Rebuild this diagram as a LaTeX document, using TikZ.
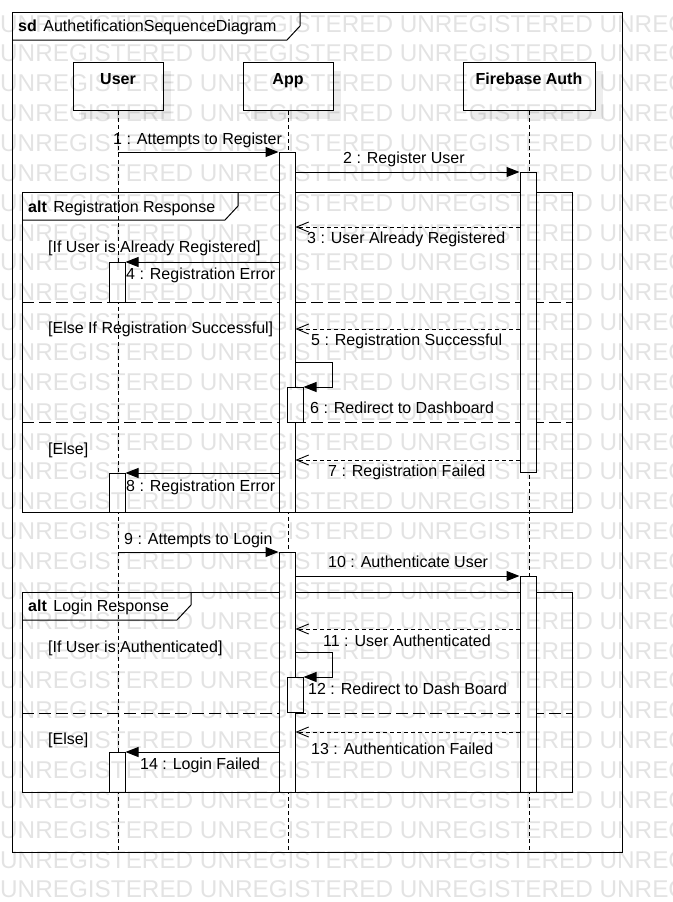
\documentclass[tikz,border=0pt]{standalone}
\usepackage{fontspec}
\setmainfont{Liberation Sans}
\usetikzlibrary{arrows.meta,shadows}

\tikzset{
  every node/.style={font=\fontsize{16}{19}\selectfont, inner sep=0pt},
  head/.style={draw, line width=1pt, fill=white, anchor=north, minimum width=90pt,
    text height=11.5pt, text depth=16.5pt, inner ysep=10pt,
    font=\fontsize{16}{19}\selectfont\bfseries,
    drop shadow={shadow xshift=8pt, shadow yshift=-8pt, fill=black, opacity=0.07}},
  act/.style={draw, line width=1pt, fill=white, anchor=north, minimum width=16pt},
  lifeline/.style={line width=0.9pt, dash pattern=on 4pt off 3pt},
  frame/.style={line width=1pt},
  sep/.style={line width=1pt, dash pattern=on 12pt off 5pt},
  call/.style={line width=1pt, -{Triangle[length=13pt,width=10pt]}},
  reply/.style={line width=0.9pt, dash pattern=on 4pt off 3pt, -{Straight Barb[length=12pt,width=10pt]}},
  lbl/.style={anchor=base west},
  wmark/.style={anchor=base west, text=black!11, font=\fontsize{24.3}{26}\selectfont}
}

\begin{document}
\begin{tikzpicture}[x=1pt,y=-1pt]
\useasboundingbox (0,0) rectangle (672,902);

% outer frame
\draw[frame] (12,12) rectangle (622,852);
\draw[frame] (300,12) -- (300,26) -- (287,40) -- (12,40);
\node[lbl] (sd) at (18,31) {\textbf{sd}\hspace{6.5pt}AuthetificationSequenceDiagram};

% lifelines
\node[head] (user) at (118,62) {User};
\node[head] (app) at (288,62) {App};
\node[head, minimum width=132pt] (fire) at (529,62) {Firebase Auth};
\coordinate (bot) at (0,852);
\draw[lifeline] (user.south) -- (user.south |- bot);
\draw[lifeline] (app.south) -- (app.south |- bot);
\draw[lifeline] (fire.south) -- (fire.south |- bot);

% alt fragments
\draw[frame] (22,192) rectangle (572,512);
\draw[frame] (238,192) -- (238,206) -- (225,220) -- (22,220);
\node[lbl] (alt1) at (28,212) {\textbf{alt}\hspace{6.5pt}Registration Response};
\draw[sep] (22,302) -- (572,302);
\draw[sep] (22,422) -- (572,422);
\node[lbl] (g1) at (48,252) {[If User is Already Registered]};
\node[lbl] (g2) at (48,333) {[Else If Registration Successful]};
\node[lbl] (g3) at (48,454) {[Else]};

\draw[frame] (22,592) rectangle (572,792);
\draw[frame] (191,592) -- (191,605) -- (177,620) -- (22,620);
\node[lbl] (alt2) at (28,611) {\textbf{alt}\hspace{6.5pt}Login Response};
\draw[sep] (22,713) -- (572,713);
\node[lbl] (g4) at (48,652) {[If User is Authenticated]};
\node[lbl] (g5) at (48,744) {[Else]};

% activations
\node[act, minimum height=360pt] (appA) at (287,152) {};
\node[act, minimum height=300pt] (fireA) at (528,172) {};
\node[act, minimum height=40pt] (userA1) at (117,262) {};
\node[act, minimum height=35pt] (appS1) at (295,387) {};
\node[act, minimum height=39pt] (userA2) at (117,473) {};
\node[act, minimum height=240pt] (appB) at (287,552) {};
\node[act, minimum height=216pt] (fireB) at (528,576) {};
\node[act, minimum height=35pt] (appS2) at (295,677) {};
\node[act, minimum height=40pt] (userA3) at (117,752) {};

% messages
\draw[call] (user.south |- appA.north) -- (appA.north west);
\draw[call] (appA.east |- fireA.north) -- (fireA.north west);
\draw[reply] (fireA.west |- 0,227) -- (appA.east |- 0,227);
\draw[call] (appA.west |- userA1.north) -- (userA1.north east);
\draw[reply] (fireA.west |- 0,329) -- (appA.east |- 0,329);
\draw[call] (appA.east |- 0,362) -- ++(37,0) |- (appS1.north east);
\draw[reply] (fireA.west |- 0,460) -- (appA.east |- 0,460);
\draw[call] (appA.west |- userA2.north) -- (userA2.north east);
\draw[call] (user.south |- appB.north) -- (appB.north west);
\draw[call] (appB.east |- fireB.north) -- (fireB.north west);
\draw[reply] (fireB.west |- 0,629) -- (appB.east |- 0,629);
\draw[call] (appB.east |- 0,652) -- ++(37,0) |- (appS2.north east);
\draw[reply] (fireB.west |- 0,732) -- (appB.east |- 0,732);
\draw[call] (appB.west |- userA3.north) -- (userA3.north east);

\node[lbl] (m1) at (113,144) {1 : Attempts to Register};
\node[lbl] (m2) at (343,163) {2 : Register User};
\node[lbl] (m3) at (307,243) {3 : User Already Registered};
\node[lbl] (m4) at (126,279) {4 : Registration Error};
\node[lbl] (m5) at (311,345) {5 : Registration Successful};
\node[lbl] (m6) at (310,413) {6 : Redirect to Dashboard};
\node[lbl] (m7) at (328,476) {7 : Registration Failed};
\node[lbl] (m8) at (126,491) {8 : Registration Error};
\node[lbl] (m9) at (124,544) {9 : Attempts to Login};
\node[lbl] (m10) at (328,567) {10 : Authenticate User};
\node[lbl] (m11) at (323,646) {11 : User Authenticated};
\node[lbl] (m12) at (308,694) {12 : Redirect to Dash Board};
\node[lbl] (m13) at (311,754) {13 : Authentication Failed};
\node[lbl] (m14) at (140,769) {14 : Login Failed};

% watermark
\begin{scope}[blend mode=multiply]
\clip (0,0) rectangle (672,902);
\foreach \k in {0,...,29}
  \node[wmark] (wm\k) at (0,{32+29.86*\k}) {UNREGISTERED UNREGISTERED UNREGISTERED UNREGISTERED};
\end{scope}
\end{tikzpicture}
\end{document}
